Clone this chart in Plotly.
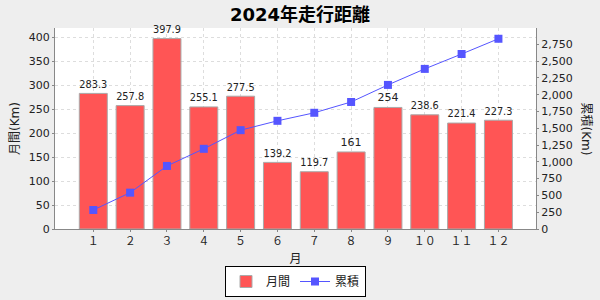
import plotly.graph_objects as go

months = ["１", "２", "３", "４", "５", "６", "７", "８", "９", "１０", "１１", "１２"]
monthly = [283.3, 257.8, 397.9, 255.1, 277.5, 139.2, 119.7, 161, 254, 238.6, 221.4, 227.3]
cumulative = [283.3, 541.1, 939.0, 1194.1, 1471.6, 1610.8, 1730.5, 1891.5, 2145.5, 2384.1, 2605.5, 2832.8]
monthly_labels = ["283.3", "257.8", "397.9", "255.1", "277.5", "139.2", "119.7", "161", "254", "238.6", "221.4", "227.3"]

FONT = "DejaVu Sans, Noto Sans CJK JP, sans-serif"

fig = go.Figure()
fig.add_trace(go.Bar(
    x=months, y=monthly, name="月間",
    marker=dict(color="#FF5555", line=dict(color="#AAAAAA", width=1)),
    text=monthly_labels, textposition="outside", cliponaxis=False,
    textfont=dict(size=11, color="#222222", family=FONT),
    width=0.76,
))
fig.add_trace(go.Scatter(
    x=months, y=cumulative, name="累積", yaxis="y2", mode="lines+markers",
    line=dict(color="#5555FF", width=1),
    marker=dict(symbol="square", size=8, color="#5555FF"),
))

fig.update_layout(
    width=600, height=300,
    margin=dict(l=55, r=64, t=28, b=71, autoexpand=False),
    paper_bgcolor="#EEEEEE", plot_bgcolor="#FFFFFF",
    font=dict(family=FONT, size=11, color="#222222"),
    title=dict(text="<b>2024年走行距離</b>", x=0.5, xanchor="center", y=0.95, yanchor="middle",
               font=dict(size=18, color="#000000", family=FONT)),
    showlegend=True,
    legend=dict(orientation="h", x=0.5, xanchor="center", yref="container", y=0.01, yanchor="bottom",
                bgcolor="#FFFFFF", bordercolor="#000000", borderwidth=1,
                font=dict(size=12, family=FONT), itemwidth=30, traceorder="normal",
                tracegroupgap=0),
    xaxis=dict(
        type="category", range=[-1.04, 12.02],
        showline=True, linecolor="#888888", linewidth=1, mirror=False,
        showgrid=True, gridcolor="#DDDDDD", griddash="3px,3px",
        ticks="outside", ticklen=2, tickcolor="#888888",
        tickfont=dict(size=11),
        title=dict(text="月", font=dict(size=12), standoff=12),
    ),
    yaxis=dict(
        range=[0, 420], dtick=50,
        showline=True, linecolor="#888888", linewidth=1,
        showgrid=True, gridcolor="#DDDDDD", griddash="3px,3px",
        ticks="outside", ticklen=2, tickcolor="#888888",
        tickfont=dict(size=11), zeroline=False,
        title=dict(text="月間(Km)", font=dict(size=12), standoff=6),
    ),
    yaxis2=dict(
        overlaying="y", side="right", range=[0, 2993], dtick=250,
        showline=True, linecolor="#888888", linewidth=1,
        showgrid=False, zeroline=False,
        ticks="outside", ticklen=2, tickcolor="#888888",
        tickformat=",d", tickfont=dict(size=11),
    ),
    annotations=[dict(
        text="累積(Km)", textangle=90, xref="paper", yref="paper",
        x=1.0, xshift=50, y=0.5, xanchor="center", yanchor="middle",
        showarrow=False, font=dict(size=12, family=FONT),
    )],
)

fig.write_html("out.html")
